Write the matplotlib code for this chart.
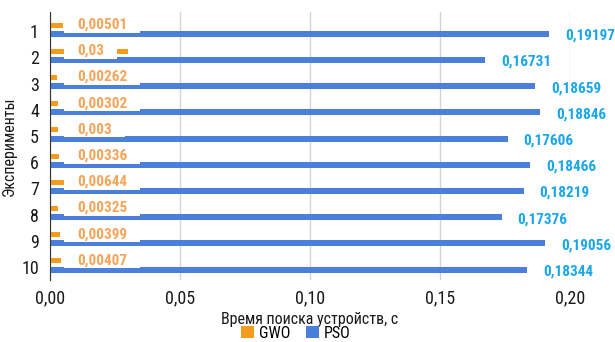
import matplotlib.pyplot as plt
from matplotlib.ticker import FuncFormatter

# Device search time per experiment, seconds
experiments = ['1', '2', '3', '4', '5', '6', '7', '8', '9', '10']
gwo_time = [0.00501, 0.03, 0.00262, 0.00302, 0.003, 0.00336, 0.00644, 0.00325, 0.00399, 0.00407]
pso_time = [0.19197, 0.16731, 0.18659, 0.18846, 0.17606, 0.18466, 0.18219, 0.17376, 0.19056, 0.18344]

gwo_color = '#f39c1e'
pso_color = '#4a80d9'
gwo_text = '#f5a55a'
pso_text = '#19a7ea'

plt.rcParams['font.family'] = ['Roboto Condensed', 'Liberation Sans', 'DejaVu Sans']


def comma(v, digits=None):
    if digits is None:
        s = f"{v:.5f}".rstrip('0')
    else:
        s = f"{v:.{digits}f}"
    return s.replace('.', ',')


fig = plt.figure(figsize=(6.15, 3.42), dpi=100)
ax = fig.add_axes([50 / 615, 62 / 342, 520 / 615, 268 / 342])

pos = list(range(1, len(experiments) + 1))
gwo_pos = [p - 0.23 for p in pos]
pso_pos = [p + 0.1 for p in pos]

ax.barh(gwo_pos, gwo_time, height=0.19, color=gwo_color, zorder=2, label='GWO')
ax.barh(pso_pos, pso_time, height=0.23, color=pso_color, zorder=2, label='PSO')

# GWO value labels sit at a fixed spot on white boxes
for y, v in zip(gwo_pos, gwo_time):
    ax.text(0.0104, y - 0.02, comma(v), color=gwo_text, fontsize=11, fontweight='bold',
            ha='left', va='center', zorder=4,
            bbox=dict(boxstyle='square,pad=0.85', mutation_aspect=0.08, fc='white', ec='none'))

# PSO value labels just past the bar ends
for y, v in zip(pso_pos, pso_time):
    ax.annotate(comma(v), (v, y), xytext=(11.5, -1.5), textcoords='offset points',
                color=pso_text, fontsize=11, fontweight='bold', ha='left', va='center',
                annotation_clip=False)

ax.set_xlim(0, 0.2)
ax.set_ylim(10.5, 0.27)
ax.set_xticks([0, 0.05, 0.10, 0.15, 0.20])
ax.xaxis.set_major_formatter(FuncFormatter(lambda x, _: comma(x, 2)))
ax.set_yticks(pos)
ax.set_yticklabels(experiments)
ax.tick_params(axis='both', length=0, labelsize=13, colors='#1a1a1a')
ax.tick_params(axis='x', pad=7)
ax.tick_params(axis='y', pad=8)

ax.grid(axis='x', color='#d4d4d4', linewidth=1, zorder=0)
ax.set_axisbelow(True)
for side in ['top', 'right', 'bottom']:
    ax.spines[side].set_visible(False)
ax.spines['left'].set_color('#333333')

ax.set_xlabel('Время поиска устройств, с', fontsize=11.5, color='#1a1a1a', labelpad=3)
ax.set_ylabel('Эксперименты', fontsize=11.5, color='#1a1a1a', labelpad=3)

fig.legend(loc='center', bbox_to_anchor=(296 / 615, 1 - 333 / 342), ncol=2, frameon=False,
           fontsize=11.5, handlelength=0.8, handleheight=0.8, handletextpad=0.3, columnspacing=1.0)

fig.savefig('out.png', dpi=100)
